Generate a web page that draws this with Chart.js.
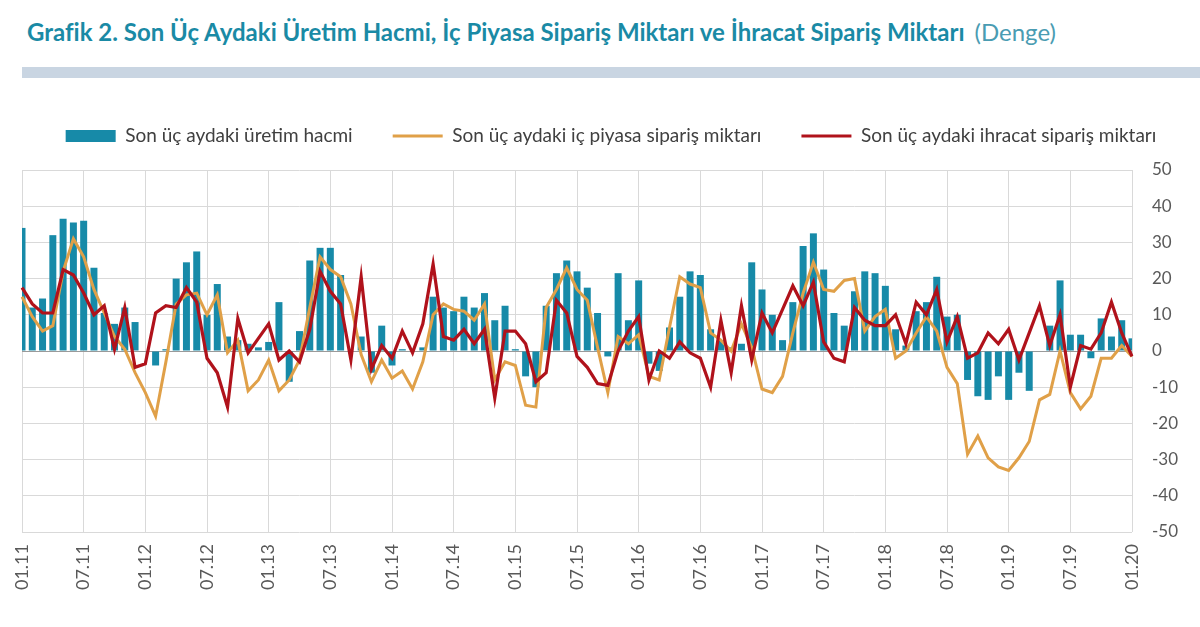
<!DOCTYPE html>
<html lang="tr">
<head>
<meta charset="utf-8">
<script src="https://cdn.jsdelivr.net/npm/chart.js@4.4.1/dist/chart.umd.min.js"></script>
<style>
  html, body { margin: 0; padding: 0; background: #fff; }
  body { width: 1200px; height: 627px; position: relative; overflow: hidden; font-family: "Lato", sans-serif; }
  #title { position: absolute; left: 27px; top: 17px; font-size: 24px; white-space: nowrap; color: #1a8aa5; }
  #title .b { font-weight: 700; }
  #title .r { font-weight: 400; color: #4a9cb2; margin-left: 10px; }
  #band { position: absolute; left: 22px; top: 67px; width: 1178px; height: 11px; background: #c9d5e2; }
  #wrap { position: absolute; left: 0; top: 83px; width: 1200px; height: 544px; }
</style>
</head>
<body>
<div id="title"><span class="b">Grafik 2. Son Üç Aydaki Üretim Hacmi, İç Piyasa Sipariş Miktarı ve İhracat Sipariş Miktarı</span><span class="r">(Denge)</span></div>
<div id="band"></div>
<div id="wrap"><canvas id="survey-chart"></canvas></div>
<script>
// month labels 01.11 ... 01.20
const years = ['11', '12', '13', '14', '15', '16', '17', '18', '19'];
const months = ['01', '02', '03', '04', '05', '06', '07', '08', '09', '10', '11', '12'];
const labels = [];
for (const y of years) {
  for (const m of months) labels.push(m + '.' + y);
}
labels.push('01.20');

// Son üç aydaki üretim hacmi (bars)
const production = [
  34, 12, 14.5, 32, 36.5, 35.5, 36, 23, 10.5, 7.5, 12, 8,
  0, -4, 0.5, 20, 24.5, 27.5, 10, 18.5, 4, 3, 2, 1,
  2.5, 13.5, -8.5, 5.5, 25, 28.5, 28.5, 21, 0, 4, -6, 7,
  -4, 0.5, 0, 1, 15, 12, 11, 15, 12, 16, 8.5, 12.5,
  0.5, -7, -10, 12.5, 21.5, 25, 22, 17.5, 10.5, -1.5, 21.5, 8.5,
  19.5, -3.5, -5.5, 6.5, 15, 22, 21, 6, 3, 1, 2, 24.5,
  17, 10, 3, 13.5, 29, 32.5, 22.5, 10.5, 7, 16.5, 22, 21.5,
  18, 6, 1.5, 11, 13.5, 20.5, 9.5, 10, -8, -12.5, -13.5, -7,
  -13.5, -6, -11, 0, 7, 19.5, 4.5, 4.5, -2, 9, 4, 8.5,
  3.5
];

// Son üç aydaki iç piyasa sipariş miktarı
const domesticOrders = [
  15, 9.5, 5.5, 7, 22, 31, 26, 17, 10.5, 4, 0.5, -6,
  -11.5, -18, -3, 13, 15.5, 16, 10, 15.5, -0.5, 3, -11, -8,
  -2.5, -11, -8, -2.5, 12, 26, 22.5, 20.5, 13, -1, -8.5, -2.5,
  -7.5, -5.5, -10.5, -3, 10, 13, 11.5, 11, 8.5, 13, -8, -3,
  -4, -15, -15.5, 12, 17, 23, 17, 14, 1, -11.5, 4, 2,
  4.5, -7, -8, 6.5, 20.5, 18.5, 17.5, 5, 3, 0, 7.5, 1,
  -10.5, -11.5, -7, 5, 16, 24.5, 17, 16.5, 19.5, 20, 5.5, 9.5,
  11.5, -2, 0, 5, 9.5, 5.5, -4.5, -9, -28.5, -23.5, -29.5, -32,
  -33, -29.5, -25, -13.5, -12, 0, -11.5, -16, -12.5, -2, -2, 1.5,
  -1.5
];

// Son üç aydaki ihracat sipariş miktarı
const exportOrders = [
  17.5, 13, 10.5, 10.5, 22.5, 21, 16, 10, 12.5, 0.5, 12, -4.5,
  -3.5, 10.5, 12.5, 12, 17.5, 13.5, -2, -6, -15.5, 9, -0.5, 3.5,
  7.5, -2.5, 0, -3, 6, 22, 16.5, 13, -2.5, 20.5, -5, 1.5,
  -2, 5.5, -0.5, 7.5, 24, 4, 3, 6, 2, 6, -13, 5.5,
  5.5, 2, -8.5, -6, 14, 10.5, -1.5, -4.5, -9, -9.5, 0, 5.5,
  9.5, -8, 0, -2, 2.5, -0.5, -2, -10, 8.5, -6, 12.5, -2.5,
  10.5, 5, 11.5, 18, 12.5, 19, 2.5, -2, -3, 12, 8.5, 7,
  7, 10, 2, 13.5, 10, 17, 2.5, 9.5, -2, -0.5, 5, 2,
  6, -2.5, 5, 12.5, 1.5, 10, -10, 1.5, 0.5, 5, 13.5, 5,
  -1.5
];

const seriesNames = [
  'Son üç aydaki üretim hacmi',
  'Son üç aydaki iç piyasa sipariş miktarı',
  'Son üç aydaki ihracat sipariş miktarı'
];

Chart.defaults.font.family = 'Lato';
Chart.defaults.color = '#595959';

// legend gets a fixed height so the plot starts where the original does
const legendBox = {
  id: 'legendBox',
  beforeInit(chart) {
    if (!chart.legend) return;
    const fit = chart.legend.fit;
    chart.legend.fit = function () {
      fit.bind(chart.legend)();
      this.height = 83.5;
    };
  }
};

new Chart(document.getElementById('survey-chart'), {
  type: 'bar',
  data: {
    labels: labels,
    datasets: [
      {
        label: seriesNames[0],
        data: production,
        backgroundColor: '#178aa8',
        borderWidth: 0,
        barPercentage: 0.68,
        categoryPercentage: 1,
        pointStyle: 'rect',
        order: 3
      },
      {
        type: 'line',
        label: seriesNames[1],
        data: domesticOrders,
        borderColor: '#e0a048',
        backgroundColor: '#e0a048',
        borderWidth: 3,
        pointRadius: 0,
        tension: 0,
        pointStyle: 'line',
        order: 2
      },
      {
        type: 'line',
        label: seriesNames[2],
        data: exportOrders,
        borderColor: '#b0121b',
        backgroundColor: '#b0121b',
        borderWidth: 3.2,
        pointRadius: 0,
        tension: 0,
        pointStyle: 'line',
        order: 1
      }
    ]
  },
  options: {
    responsive: true,
    maintainAspectRatio: false,
    animation: false,
    layout: { padding: { left: 22, right: 0, top: 3.5, bottom: 0 } },
    plugins: {
      legend: {
        position: 'top',
        labels: {
          usePointStyle: true,
          pointStyleWidth: 50,
          boxHeight: 12,
          padding: 40,
          color: '#404040',
          font: { size: 19 },
          sort: (a, b) => a.datasetIndex - b.datasetIndex
        }
      },
      tooltip: { enabled: false }
    },
    scales: {
      x: {
        offset: false,
        grid: {
          offset: false,
          drawTicks: false,
          color: '#d9d9d9',
          lineWidth: 1
        },
        border: { display: false },
        ticks: {
          autoSkip: false,
          maxRotation: 90,
          minRotation: 90,
          padding: 12,
          font: { size: 18 },
          callback: function (val, index) {
            return index % 6 === 0 ? this.getLabelForValue(val) : null;
          }
        },
        afterFit: function (scale) { scale.height = 95; }
      },
      y: {
        position: 'right',
        min: -50,
        max: 50,
        grid: {
          drawTicks: false,
          color: (ctx) => ctx.tick && ctx.tick.value === 0 ? '#9a9a9a' : '#d9d9d9',
          lineWidth: 1
        },
        border: { display: false },
        ticks: {
          stepSize: 10,
          padding: 20,
          font: { size: 17 }
        },
        afterFit: function (scale) { scale.width = 68; }
      }
    }
  },
  plugins: [legendBox]
});
</script>
</body>
</html>
